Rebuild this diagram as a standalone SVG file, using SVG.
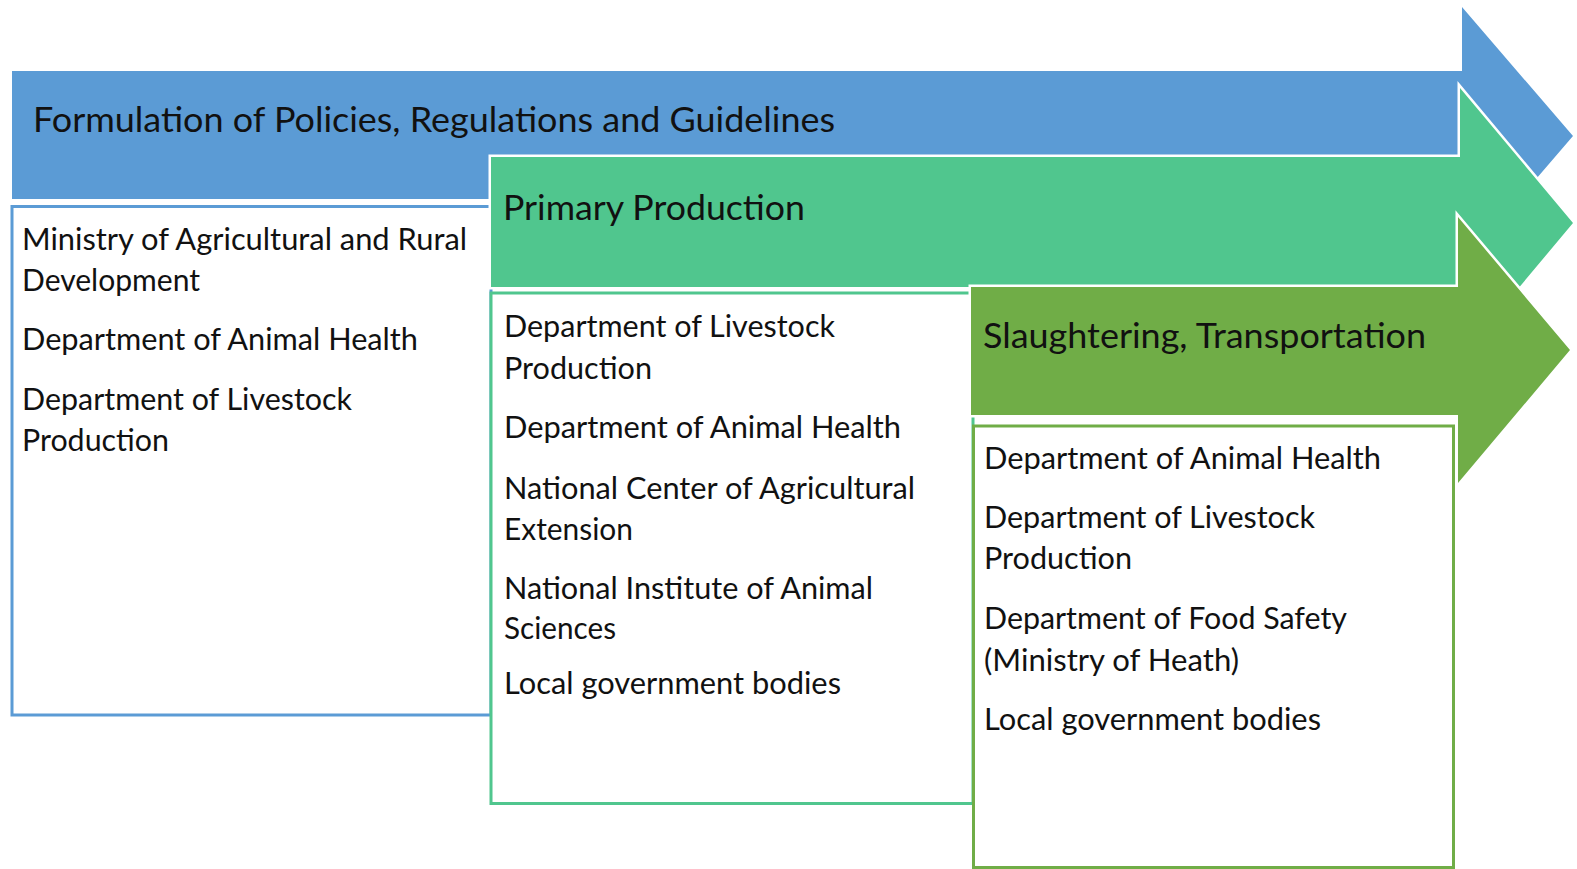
<svg xmlns="http://www.w3.org/2000/svg" width="1577" height="869" viewBox="0 0 1577 869">
  <style>
    .arrow { stroke: #ffffff; stroke-width: 5; stroke-linejoin: miter; paint-order: stroke; }
    .blue { fill: #5b9bd5; }
    .green { fill: #50c68e; }
    .olive { fill: #70ad47; }
    .box { fill: #ffffff; stroke-width: 3; }
    .box-blue { stroke: #5b9bd5; }
    .box-green { stroke: #50c68e; }
    .box-olive { stroke: #70ad47; }
    text { font-family: Lato, "Open Sans", "Liberation Sans", sans-serif; fill: #111111; }
    .head { font-size: 34px; }
    .item { font-size: 30px; }
  </style>

  <!-- Stage 1: policies -->
  <g id="stage-policies">
    <path class="arrow blue" d="M12,71 H1462 V7 L1573,136 L1462,265 V199 H12 Z"/>
    <text class="head" x="33" y="132" textLength="802" lengthAdjust="spacingAndGlyphs">Formulation of Policies, Regulations and Guidelines</text>
  </g>
  <g id="box-policies">
    <rect class="box box-blue" x="12" y="206.5" width="479" height="508.5"/>
    <text class="item" x="22" y="250" textLength="445" lengthAdjust="spacingAndGlyphs">Ministry of Agricultural and Rural</text>
    <text class="item" x="22" y="291" textLength="178" lengthAdjust="spacingAndGlyphs">Development</text>
    <text class="item" x="22" y="350" textLength="396" lengthAdjust="spacingAndGlyphs">Department of Animal Health</text>
    <text class="item" x="22" y="410" textLength="330" lengthAdjust="spacingAndGlyphs">Department of Livestock</text>
    <text class="item" x="22" y="451" textLength="147" lengthAdjust="spacingAndGlyphs">Production</text>
  </g>

  <!-- Stage 2: primary production -->
  <g id="stage-primary">
    <path class="arrow green" d="M491,157 H1460 V88 L1573,223 L1460,358 V287 H491 Z"/>
    <text class="head" x="503" y="220" textLength="302" lengthAdjust="spacingAndGlyphs">Primary Production</text>
  </g>
  <g id="box-primary">
    <rect class="box box-green" x="491" y="293" width="482" height="510.5"/>
    <text class="item" x="504" y="337" textLength="331" lengthAdjust="spacingAndGlyphs">Department of Livestock</text>
    <text class="item" x="504" y="379" textLength="148" lengthAdjust="spacingAndGlyphs">Production</text>
    <text class="item" x="504" y="438" textLength="397" lengthAdjust="spacingAndGlyphs">Department of Animal Health</text>
    <text class="item" x="504" y="498.5" textLength="411" lengthAdjust="spacingAndGlyphs">National Center of Agricultural</text>
    <text class="item" x="504" y="540" textLength="129" lengthAdjust="spacingAndGlyphs">Extension</text>
    <text class="item" x="504" y="599" textLength="369" lengthAdjust="spacingAndGlyphs">National Institute of Animal</text>
    <text class="item" x="504" y="638.5" textLength="112" lengthAdjust="spacingAndGlyphs">Sciences</text>
    <text class="item" x="504" y="694" textLength="337" lengthAdjust="spacingAndGlyphs">Local government bodies</text>
  </g>

  <!-- Stage 3: slaughtering and transportation -->
  <g id="stage-slaughter">
    <path class="arrow olive" d="M971,287 H1458 V217 L1570,350 L1458,483 V415 H971 Z"/>
    <text class="head" x="983" y="348" textLength="443" lengthAdjust="spacingAndGlyphs">Slaughtering, Transportation</text>
  </g>
  <g id="box-slaughter">
    <rect class="box box-olive" x="973.5" y="426" width="480" height="441.5"/>
    <text class="item" x="984" y="469" textLength="397" lengthAdjust="spacingAndGlyphs">Department of Animal Health</text>
    <text class="item" x="984" y="528" textLength="331" lengthAdjust="spacingAndGlyphs">Department of Livestock</text>
    <text class="item" x="984" y="569" textLength="148" lengthAdjust="spacingAndGlyphs">Production</text>
    <text class="item" x="984" y="629" textLength="363" lengthAdjust="spacingAndGlyphs">Department of Food Safety</text>
    <text class="item" x="984" y="670.5" textLength="255" lengthAdjust="spacingAndGlyphs">(Ministry of Heath)</text>
    <text class="item" x="984" y="730" textLength="337" lengthAdjust="spacingAndGlyphs">Local government bodies</text>
  </g>
</svg>
